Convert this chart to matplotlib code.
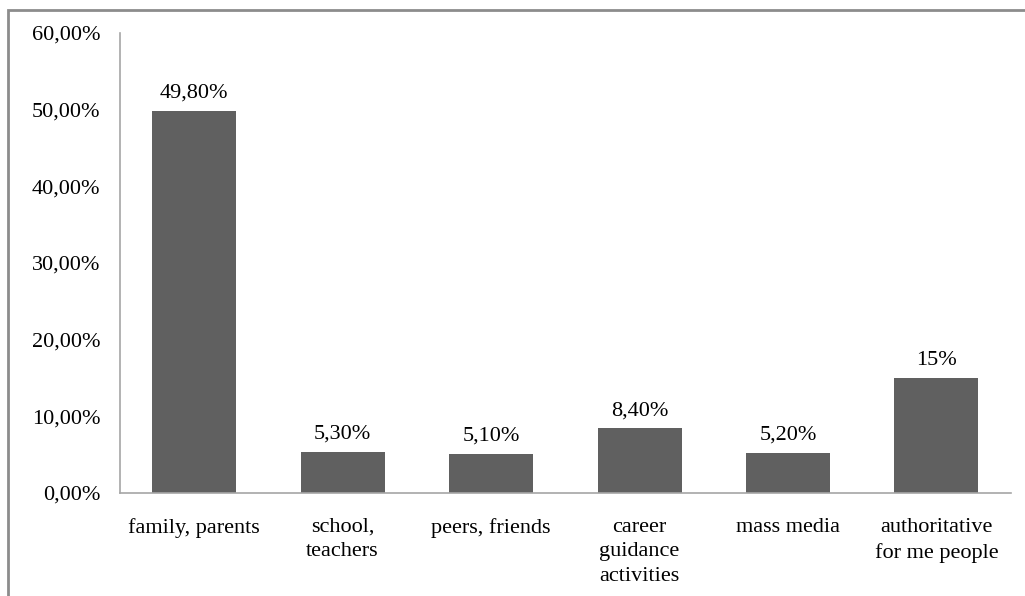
import matplotlib.pyplot as plt
from matplotlib.patches import Rectangle
import numpy as np

categories = ["family, parents", "school,\nteachers", "peers, friends",
              "career\nguidance\nactivities", "mass media",
              "authoritative\nfor me people"]
values = [49.8, 5.3, 5.1, 8.4, 5.2, 15.0]
value_labels = ["49,80%", "5,30%", "5,10%", "8,40%", "5,20%", "15%"]
y_ticks = [0, 10, 20, 30, 40, 50, 60]
y_tick_labels = ["0,00%", "10,00%", "20,00%", "30,00%", "40,00%", "50,00%", "60,00%"]

plt.rcParams['font.family'] = ['Liberation Serif', 'DejaVu Serif']
fs = 16

fig = plt.figure(figsize=(10.25, 5.96), dpi=100)
ax = fig.add_axes([0.117, 0.173, 0.869, 0.772])

x = np.arange(len(categories))
bars = ax.bar(x, values, width=0.566, color='#606060')

for b, lab in zip(bars, value_labels):
	ax.annotate(lab, (b.get_x() + b.get_width() / 2, b.get_height()),
		xytext=(0, 6), textcoords='offset points',
		ha='center', va='bottom', fontsize=fs)

ax.set_xlim(-0.5, len(categories) - 0.5)
ax.set_ylim(0, 60)
ax.set_yticks(y_ticks)
ax.set_yticklabels(y_tick_labels, fontsize=fs)
ax.set_xticks(x)
ax.set_xticklabels(categories, fontsize=fs, linespacing=1.4, va='top')
ax.tick_params(axis='y', length=0, pad=14)
ax.tick_params(axis='x', length=0, pad=18)

for s in ['top', 'right']:
	ax.spines[s].set_visible(False)
for s in ['left', 'bottom']:
	ax.spines[s].set_color('#a6a6a6')
	ax.spines[s].set_linewidth(1.2)

# outer frame of the chart area
fig.patches.append(Rectangle((8 / 1025, -0.05), 1.1, 1.05 - 10 / 596,
	transform=fig.transFigure, fill=False, edgecolor='#8c8c8c', linewidth=2))

fig.savefig('out.png', dpi=100)
